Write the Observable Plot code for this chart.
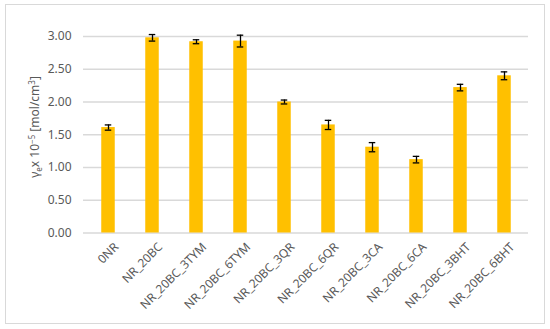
<!DOCTYPE html>
<html>
<head>
<meta charset="utf-8">
<script src="https://cdn.jsdelivr.net/npm/d3@7"></script>
<script src="https://cdn.jsdelivr.net/npm/@observablehq/plot@0.6"></script>
<style>
  html, body { margin: 0; padding: 0; background: #fff; }
  #wrap { position: relative; width: 550px; height: 329px; }
  #border { position: absolute; left: 5px; top: 4px; width: 538px; height: 318px; border: 1px solid #d9d9d9; pointer-events: none; }
</style>
</head>
<body>
<div id="wrap"><div id="border"></div></div>
<script>
const categories = ["0NR", "NR_20BC", "NR_20BC_3TYM", "NR_20BC_6TYM", "NR_20BC_3QR", "NR_20BC_6QR", "NR_20BC_3CA", "NR_20BC_6CA", "NR_20BC_3BHT", "NR_20BC_6BHT"];
const values = [1.61, 2.98, 2.92, 2.93, 2.00, 1.65, 1.31, 1.12, 2.22, 2.40];
const errors = [0.04, 0.05, 0.03, 0.09, 0.03, 0.07, 0.07, 0.05, 0.05, 0.06];
const yTicks = [0, 0.5, 1, 1.5, 2, 2.5, 3];

const data = categories.map((c, i) => ({cat: c, v: values[i], e: errors[i]}));

const font = "'Noto Sans', sans-serif";
const chart = Plot.plot({
  width: 550,
  height: 329,
  marginLeft: 83,
  marginRight: 22,
  marginTop: 36,
  marginBottom: 96.5,
  style: {fontFamily: font, fontSize: "11.5px", color: "#595959", background: "transparent"},
  x: {domain: categories, padding: 0, label: null},
  y: {domain: [0, 3], label: null},
  marks: [
    Plot.gridY(yTicks, {stroke: "#d9d9d9", strokeOpacity: 1, strokeWidth: 1.3}),
    Plot.axisY(yTicks, {tickSize: 0, tickPadding: 12, tickFormat: d3.format(".2f"), fill: "#595959", fontSize: 12}),
    Plot.axisX({tickSize: 0, tickRotate: -45, tickPadding: 12, dx: 8, fill: "#595959", fontSize: 12}),
    Plot.barY(data, {x: "cat", y: "v", fill: "#FFC000", insetLeft: 15.25, insetRight: 15.25}),
    Plot.ruleX(data, {x: "cat", y1: d => d.v - d.e, y2: d => d.v + d.e, stroke: "#000", strokeWidth: 1.3}),
    Plot.tickY(data, {x: "cat", y: d => d.v - d.e, stroke: "#000", strokeWidth: 1.3, insetLeft: 18.75, insetRight: 18.75}),
    Plot.tickY(data, {x: "cat", y: d => d.v + d.e, stroke: "#000", strokeWidth: 1.3, insetLeft: 18.75, insetRight: 18.75})
  ]
});
const wrap = document.getElementById("wrap");
wrap.insertBefore(chart, wrap.firstChild);

// y-axis title as real text
const svg = d3.select(chart);
const t = svg.append("text")
  .attr("transform", "translate(39,127) rotate(-90)")
  .attr("text-anchor", "middle")
  .attr("fill", "#595959")
  .attr("font-family", font)
  .attr("font-size", 12);
t.append("tspan").text("γ");
t.append("tspan").attr("font-size", 8).attr("dy", 3).text("e");
t.append("tspan").attr("dy", -3).text("x 10");
t.append("tspan").attr("font-size", 8).attr("dy", -4).text("−5");
t.append("tspan").attr("dy", 4).text(" [mol/cm");
t.append("tspan").attr("font-size", 8).attr("dy", -4).text("3");
t.append("tspan").attr("dy", 4).text("]");
</script>
</body>
</html>
